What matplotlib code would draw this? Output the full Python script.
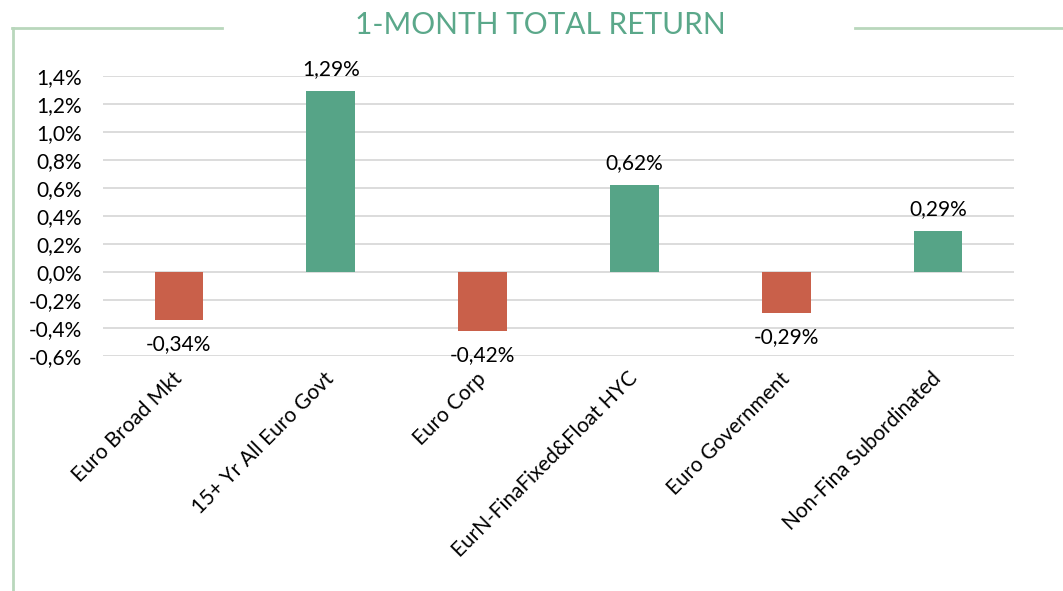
import matplotlib
matplotlib.use("Agg")
import matplotlib.pyplot as plt
from matplotlib.lines import Line2D

plt.rcParams['font.family'] = ['Lato', 'DejaVu Sans']

categories = ["Euro Broad Mkt", "15+ Yr All Euro Govt", "Euro Corp",
              "EurN-FinaFixed&Float HYC", "Euro Government", "Non-Fina Subordinated"]
values = [-0.34, 1.29, -0.42, 0.62, -0.29, 0.29]
yticks = [-0.6, -0.4, -0.2, 0.0, 0.2, 0.4, 0.6, 0.8, 1.0, 1.2, 1.4]

GREEN = "#56A487"
RED = "#C9604A"
FRAME = "#B9D7BC"
FS = 15

W, H = 1063, 591
fig = plt.figure(figsize=(W/100, H/100), dpi=100)
ax = fig.add_axes([103/W, 1-356/H, (1014-103)/W, (356-76)/H])

x = list(range(len(categories)))
colors = [GREEN if v >= 0 else RED for v in values]
ax.bar(x, values, width=0.32, color=colors, zorder=3)
ax.set_xlim(-0.5, len(categories)-0.5)
ax.set_ylim(-0.6, 1.4)
ax.set_yticks(yticks)
ax.set_yticklabels([f"{t:.1f}%".replace(".", ",") for t in yticks], fontsize=FS)
ax.yaxis.grid(True, color="#D9D9D9", linewidth=1.3, zorder=0)
ax.tick_params(axis='y', length=0, pad=15)
ax.tick_params(axis='x', length=0, pad=14)
for s in ax.spines.values():
    s.set_visible(False)
ax.set_xticks(x)
ax.set_xticklabels(categories, rotation=45, ha='right', va='center',
                   rotation_mode='anchor', fontsize=FS)

for xi, v in zip(x, values):
    lab = f"{v:.2f}%".replace(".", ",")
    if v >= 0:
        ax.annotate(lab, (xi, v), xytext=(0, 9), textcoords='offset points',
                    ha='center', va='bottom', fontsize=FS)
    else:
        ax.annotate(lab, (xi, v), xytext=(0, -10.5), textcoords='offset points',
                    ha='center', va='top', fontsize=FS)

fig.text(540/W, 1-25/H, "1-MONTH TOTAL RETURN", color="#5BA88A",
         fontsize=21.5, ha='center', va='center')

fig.add_artist(Line2D([12/W, 222/W], [1-28/H, 1-28/H], color=FRAME, lw=2))
fig.add_artist(Line2D([855/W, 1.0], [1-28/H, 1-28/H], color=FRAME, lw=2))
fig.add_artist(Line2D([12.5/W, 12.5/W], [1-28/H, 0], color=FRAME, lw=2))

fig.savefig("out.png", dpi=100)
